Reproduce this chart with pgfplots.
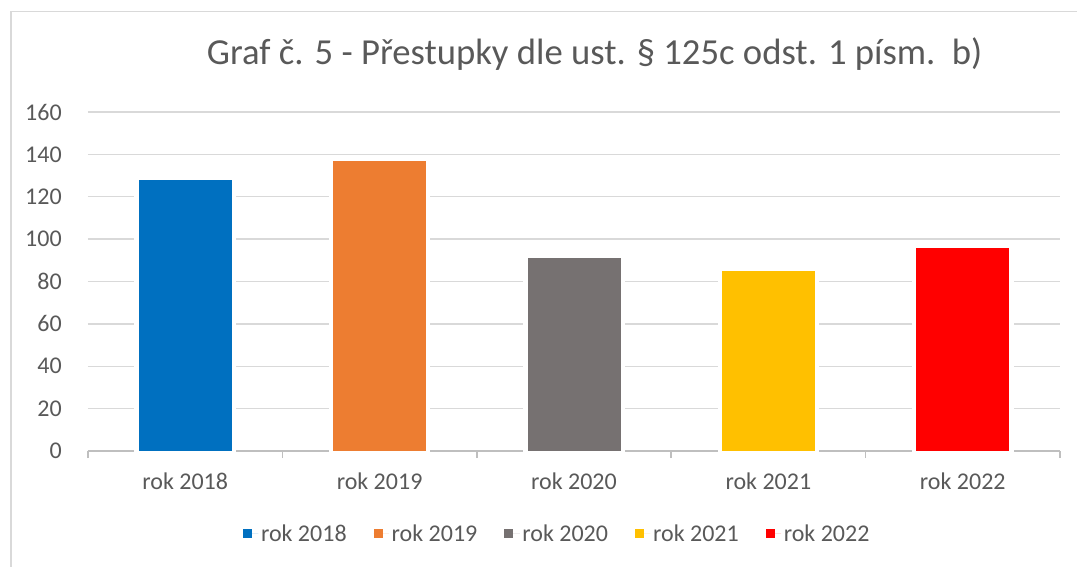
\documentclass[border=0pt]{standalone}
\usepackage{pgfplots}
\pgfplotsset{compat=1.18}
\usepackage{fontspec}
\setmainfont{Carlito}
\definecolor{c2018}{HTML}{0070C0}
\definecolor{c2019}{HTML}{ED7D31}
\definecolor{c2020}{HTML}{767171}
\definecolor{c2021}{HTML}{FFC000}
\definecolor{c2022}{HTML}{FF0000}
\definecolor{txt}{HTML}{595959}
\definecolor{gridc}{HTML}{D9D9D9}
\definecolor{axc}{HTML}{BFBFBF}
\begin{document}
\begin{tikzpicture}
\path[use as bounding box] (0,0) rectangle (807.75pt,425.25pt);
\draw[gridc, line width=1.1pt] (8.25pt,0) -- (8.25pt,416.6pt) -- (807.75pt,416.6pt);
\node[txt, anchor=base, inner sep=0pt, font=\fontsize{27.5}{32}\selectfont] at (446pt,376.5pt) {Graf č. 5 - Přestupky dle ust. § 125c odst. 1 písm.\ \ b)};
\begin{axis}[
  at={(66pt,87pt)}, anchor=south west,
  scale only axis, width=729pt, height=254.25pt,
  xmin=-0.5, xmax=4.5, ymin=0, ymax=160,
  ytick={0,20,...,160},
  xtick={0,1,2,3,4},
  xticklabels={rok 2018,rok 2019,rok 2020,rok 2021,rok 2022},
  minor xtick={-0.5,0.5,1.5,2.5,3.5,4.5},
  axis x line*=bottom, axis y line*=left,
  x axis line style={-, color=axc, line width=1.1pt},
  y axis line style={draw=none},
  major tick length=0pt, minor tick length=5.25pt, tick align=outside,
  minor tick style={color=axc, line width=1.1pt},
  ymajorgrids, major grid style={color=gridc, line width=1.1pt},
  ticklabel style={font=\fontsize{18}{21}\selectfont, text=txt},
  yticklabel style={anchor=east, inner sep=0pt, xshift=-19.5pt},
  xticklabel style={anchor=base, inner sep=0pt, yshift=-28.5pt},
  /pgf/number format/assume math mode=true,
  ybar, bar width=69.75pt, bar shift=0pt,
  clip=false,
  legend columns=5,
  legend style={draw=none, fill=none, inner sep=0pt, outer sep=0pt,
    at={(axis description cs:0.1595,-0.2448)}, anchor=west,
    font=\fontsize{18}{21}\selectfont, text=txt,
    /tikz/every even column/.append style={column sep=18.3pt}},
  legend image code/.code={\path[#1, draw=none] (0pt,-3.375pt) rectangle (6.75pt,3.375pt); \path (0pt,0pt) -- (11.5pt,0pt);},
]
\addplot[fill=white, draw=white, line width=6.5pt, forget plot] coordinates {(0,128)};
\addplot[fill=white, draw=white, line width=6.5pt, forget plot] coordinates {(1,137)};
\addplot[fill=white, draw=white, line width=6.5pt, forget plot] coordinates {(2,91)};
\addplot[fill=white, draw=white, line width=6.5pt, forget plot] coordinates {(3,85)};
\addplot[fill=white, draw=white, line width=6.5pt, forget plot] coordinates {(4,96)};
\addplot[fill=c2018, draw=none] coordinates {(0,128)};
\addplot[fill=c2019, draw=none] coordinates {(1,137)};
\addplot[fill=c2020, draw=none] coordinates {(2,91)};
\addplot[fill=c2021, draw=none] coordinates {(3,85)};
\addplot[fill=c2022, draw=none] coordinates {(4,96)};
\legend{rok 2018,rok 2019,rok 2020,rok 2021,rok 2022}
\end{axis}
\end{tikzpicture}
\end{document}
